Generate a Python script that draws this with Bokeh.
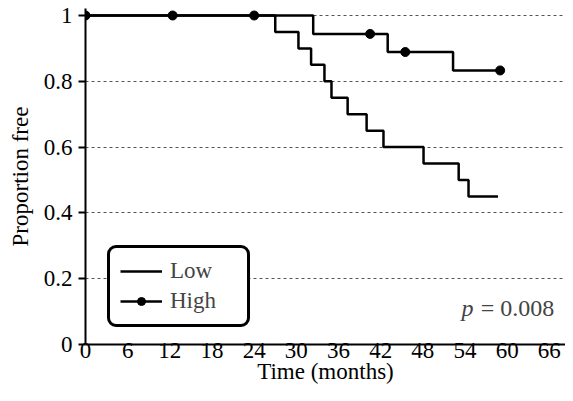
from bokeh.plotting import figure
from bokeh.models import Legend, LegendItem, Label, FixedTicker
from bokeh.embed import file_html
from bokeh.resources import INLINE

# ---- data ----
low_t = [0, 27.0, 30.3, 32.1, 34.0, 35.0, 37.3, 40.0, 42.4, 48.1, 53.1, 54.5]
low_s = [1.0, 0.95, 0.90, 0.85, 0.80, 0.75, 0.70, 0.65, 0.60, 0.55, 0.50, 0.45]
low_end = 58.7
high_t = [0, 32.4, 43.0, 52.3]
high_s = [1.0, 0.944, 0.889, 0.833]
high_end = 59.0
high_cens_t = [0, 12.4, 24.0, 40.5, 45.5, 59.0]
high_cens_s = [1.0, 1.0, 1.0, 0.944, 0.889, 0.833]
x_ticks = [0, 6, 12, 18, 24, 30, 36, 42, 48, 54, 60, 66]
y_ticks = [0, 0.2, 0.4, 0.6, 0.8, 1]
p_text = "= 0.008"

FONT = "Liberation Serif"

p = figure(frame_width=480, frame_height=336, x_range=(0, 68.3), y_range=(0, 1.0213),
           output_backend="svg", toolbar_location=None,
           min_border_left=85, min_border_right=0, min_border_top=8, min_border_bottom=41)
p.outline_line_color = None
p.background_fill_color = "white"
p.border_fill_color = "white"

# grid
p.xgrid.grid_line_color = None
p.ygrid.ticker = FixedTicker(ticks=[0.2, 0.4, 0.6, 0.8, 1])
p.ygrid.grid_line_color = "#555555"
p.ygrid.grid_line_dash = "3 3"
p.ygrid.grid_line_width = 1

# axes
p.xaxis.ticker = FixedTicker(ticks=x_ticks)
p.yaxis.ticker = FixedTicker(ticks=y_ticks)
p.yaxis.major_label_overrides = {0: "0", 1: "1"}
for ax in (p.xaxis[0], p.yaxis[0]):
    ax.axis_line_width = 2
    ax.axis_line_color = "black"
    ax.major_tick_line_width = 2
    ax.major_tick_line_color = "black"
    ax.minor_tick_line_color = None
    ax.major_label_text_font = FONT
    ax.major_label_text_font_size = "23px"
    ax.major_label_text_color = "black"
    ax.axis_label_text_font = FONT
    ax.axis_label_text_font_size = "23px"
    ax.axis_label_text_font_style = "normal"
    ax.axis_label_text_color = "black"
p.xaxis.major_tick_out = 0
p.xaxis.major_tick_in = 0
p.xaxis.major_label_standoff = -2
p.xaxis.axis_label = "Time (months)"
p.xaxis.axis_label_standoff = -2
p.yaxis.major_tick_out = 7
p.yaxis.major_tick_in = 0
p.yaxis.major_label_standoff = 6
p.yaxis.axis_label = "Proportion free"
p.yaxis.axis_label_standoff = 8

# curves
r_low = p.step(low_t + [low_end], low_s + [low_s[-1]], mode="after",
               line_color="black", line_width=2.5)
r_high = p.step(high_t + [high_end], high_s + [high_s[-1]], mode="after",
                line_color="black", line_width=2.5)
r_dots = p.scatter(high_cens_t, high_cens_s, size=9, marker="circle",
                   fill_color="black", line_color="black")

legend = Legend(items=[LegendItem(label="Low", renderers=[r_low]),
                       LegendItem(label="High", renderers=[r_high, r_dots])],
                location=(22, 17), orientation="vertical",
                border_line_color="black", border_line_width=3, border_line_alpha=1,
                border_radius=9,
                background_fill_color="white", background_fill_alpha=1,
                label_text_font=FONT, label_text_font_size="23px",
                glyph_width=42, glyph_height=20, label_height=20,
                label_standoff=8, label_width=67,
                spacing=4, padding=10, margin=0)
p.add_layout(legend, "center")

p.add_layout(Label(x=53.5, y=0.11, text="p", text_font=FONT, text_font_size="24px",
                   text_font_style="italic", text_align="left", text_baseline="middle"))
p.add_layout(Label(x=66.7, y=0.11, text=p_text, text_font=FONT, text_font_size="24px",
                   text_align="right", text_baseline="middle"))

open("out.html", "w").write(file_html(p, INLINE))
